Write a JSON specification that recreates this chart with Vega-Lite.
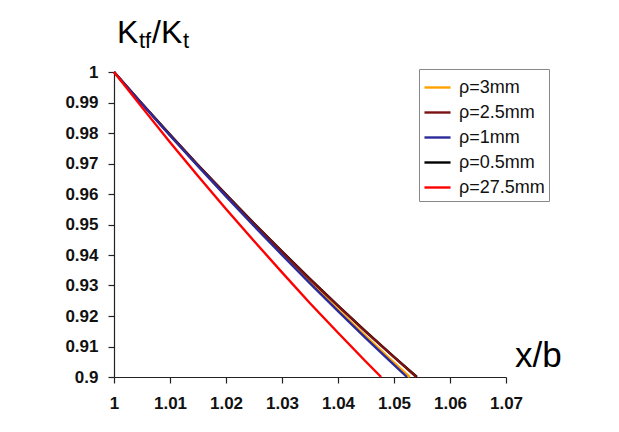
{
  "$schema": "https://vega.github.io/schema/vega-lite/v6.json",
  "width": 392,
  "height": 305,
  "autosize": {"type": "none"},
  "padding": {"left": 114, "top": 72, "right": 113, "bottom": 55},
  "background": "white",
  "config": {
    "view": {"stroke": null},
    "font": "Liberation Sans",
    "axis": {"grid": false, "domainColor": "#222", "tickColor": "#222", "domainWidth": 1.2, "tickWidth": 1.2, "tickSize": 6, "labelFont": "Liberation Sans", "labelFontWeight": "bold", "labelFontSize": 17, "labelColor": "#111", "labelOverlap": false, "title": null}
  },
  "layer": [
    {
      "data": {"values": [
        {"series": "ρ=3mm", "x": 1, "y": 1},
        {"series": "ρ=3mm", "x": 1.005, "y": 0.9896},
        {"series": "ρ=3mm", "x": 1.01, "y": 0.9793},
        {"series": "ρ=3mm", "x": 1.015, "y": 0.9693},
        {"series": "ρ=3mm", "x": 1.02, "y": 0.9594},
        {"series": "ρ=3mm", "x": 1.025, "y": 0.9498},
        {"series": "ρ=3mm", "x": 1.03, "y": 0.9404},
        {"series": "ρ=3mm", "x": 1.035, "y": 0.9312},
        {"series": "ρ=3mm", "x": 1.04, "y": 0.9221},
        {"series": "ρ=3mm", "x": 1.045, "y": 0.9133},
        {"series": "ρ=3mm", "x": 1.05, "y": 0.9047},
        {"series": "ρ=3mm", "x": 1.0528, "y": 0.9},
        {"series": "ρ=0.5mm", "x": 1, "y": 1},
        {"series": "ρ=0.5mm", "x": 1.005, "y": 0.9896},
        {"series": "ρ=0.5mm", "x": 1.01, "y": 0.9795},
        {"series": "ρ=0.5mm", "x": 1.015, "y": 0.9695},
        {"series": "ρ=0.5mm", "x": 1.02, "y": 0.9599},
        {"series": "ρ=0.5mm", "x": 1.025, "y": 0.9504},
        {"series": "ρ=0.5mm", "x": 1.03, "y": 0.9412},
        {"series": "ρ=0.5mm", "x": 1.035, "y": 0.9322},
        {"series": "ρ=0.5mm", "x": 1.04, "y": 0.9234},
        {"series": "ρ=0.5mm", "x": 1.045, "y": 0.9149},
        {"series": "ρ=0.5mm", "x": 1.05, "y": 0.9066},
        {"series": "ρ=0.5mm", "x": 1.0541, "y": 0.9},
        {"series": "ρ=2.5mm", "x": 1, "y": 1},
        {"series": "ρ=2.5mm", "x": 1.005, "y": 0.9896},
        {"series": "ρ=2.5mm", "x": 1.01, "y": 0.9794},
        {"series": "ρ=2.5mm", "x": 1.015, "y": 0.9694},
        {"series": "ρ=2.5mm", "x": 1.02, "y": 0.9597},
        {"series": "ρ=2.5mm", "x": 1.025, "y": 0.9502},
        {"series": "ρ=2.5mm", "x": 1.03, "y": 0.941},
        {"series": "ρ=2.5mm", "x": 1.035, "y": 0.932},
        {"series": "ρ=2.5mm", "x": 1.04, "y": 0.9233},
        {"series": "ρ=2.5mm", "x": 1.045, "y": 0.9147},
        {"series": "ρ=2.5mm", "x": 1.05, "y": 0.9065},
        {"series": "ρ=2.5mm", "x": 1.054, "y": 0.9},
        {"series": "ρ=1mm", "x": 1, "y": 1},
        {"series": "ρ=1mm", "x": 1.005, "y": 0.9895},
        {"series": "ρ=1mm", "x": 1.01, "y": 0.9792},
        {"series": "ρ=1mm", "x": 1.015, "y": 0.9691},
        {"series": "ρ=1mm", "x": 1.02, "y": 0.9592},
        {"series": "ρ=1mm", "x": 1.025, "y": 0.9495},
        {"series": "ρ=1mm", "x": 1.03, "y": 0.94},
        {"series": "ρ=1mm", "x": 1.035, "y": 0.9307},
        {"series": "ρ=1mm", "x": 1.04, "y": 0.9216},
        {"series": "ρ=1mm", "x": 1.045, "y": 0.9127},
        {"series": "ρ=1mm", "x": 1.05, "y": 0.904},
        {"series": "ρ=1mm", "x": 1.0523, "y": 0.9},
        {"series": "ρ=27.5mm", "x": 1, "y": 1},
        {"series": "ρ=27.5mm", "x": 1.005, "y": 0.9884},
        {"series": "ρ=27.5mm", "x": 1.01, "y": 0.977},
        {"series": "ρ=27.5mm", "x": 1.015, "y": 0.9659},
        {"series": "ρ=27.5mm", "x": 1.02, "y": 0.9551},
        {"series": "ρ=27.5mm", "x": 1.025, "y": 0.9446},
        {"series": "ρ=27.5mm", "x": 1.03, "y": 0.9343},
        {"series": "ρ=27.5mm", "x": 1.035, "y": 0.9242},
        {"series": "ρ=27.5mm", "x": 1.04, "y": 0.9145},
        {"series": "ρ=27.5mm", "x": 1.045, "y": 0.905},
        {"series": "ρ=27.5mm", "x": 1.0477, "y": 0.9}
      ]},
      "mark": {"type": "line", "strokeWidth": 2.4},
      "encoding": {
        "x": {"field": "x", "type": "quantitative", "scale": {"domain": [1, 1.07], "nice": false, "zero": false}, "axis": {"values": [1, 1.01, 1.02, 1.03, 1.04, 1.05, 1.06, 1.07], "tickCount": 8, "format": "~g", "labelPadding": 12, "labelFlush": false}},
        "y": {"field": "y", "type": "quantitative", "scale": {"domain": [0.9, 1], "nice": false, "zero": false}, "axis": {"values": [0.9, 0.91, 0.92, 0.93, 0.94, 0.95, 0.96, 0.97, 0.98, 0.99, 1], "tickCount": 11, "format": "~g", "labelPadding": 10, "labelFlush": false, "labelOverlap": false}},
        "color": {"field": "series", "type": "nominal", "sort": null,
          "scale": {"domain": ["ρ=3mm", "ρ=2.5mm", "ρ=1mm", "ρ=0.5mm", "ρ=27.5mm"], "range": ["#FFA200", "#7A1212", "#2A2A9A", "#000000", "#FF0000"]},
          "legend": {"title": null, "orient": "none", "legendX": 305, "legendY": -3, "symbolType": "stroke", "symbolSize": 680, "symbolStrokeWidth": 2.4, "labelFontSize": 18, "labelFont": "Liberation Sans", "labelColor": "#111", "labelOffset": 7, "rowPadding": 1, "padding": 4, "strokeColor": "#888", "fillColor": "white"}
        }
      }
    },
    {
      "data": {"values": [{"t": "K", "x": 1.00054, "y": 1.00951}, {"t": "/K", "x": 1.00679, "y": 1.00951}]},
      "mark": {"type": "text", "align": "left", "baseline": "alphabetic", "fontSize": 32, "font": "Liberation Sans", "color": "#000"},
      "encoding": {"x": {"field": "x", "type": "quantitative"}, "y": {"field": "y", "type": "quantitative"}, "text": {"field": "t"}}
    },
    {
      "data": {"values": [{"t": "tf", "x": 1.00446, "y": 1.00787}, {"t": "t", "x": 1.01232, "y": 1.00787}]},
      "mark": {"type": "text", "align": "left", "baseline": "alphabetic", "fontSize": 22, "font": "Liberation Sans", "color": "#000"},
      "encoding": {"x": {"field": "x", "type": "quantitative"}, "y": {"field": "y", "type": "quantitative"}, "text": {"field": "t"}}
    },
    {
      "data": {"values": [{"t": "x/b", "x": 1.07161, "y": 0.90328}]},
      "mark": {"type": "text", "align": "left", "baseline": "alphabetic", "fontSize": 35, "font": "Liberation Sans", "color": "#000"},
      "encoding": {"x": {"field": "x", "type": "quantitative"}, "y": {"field": "y", "type": "quantitative"}, "text": {"field": "t"}}
    }
  ]
}
